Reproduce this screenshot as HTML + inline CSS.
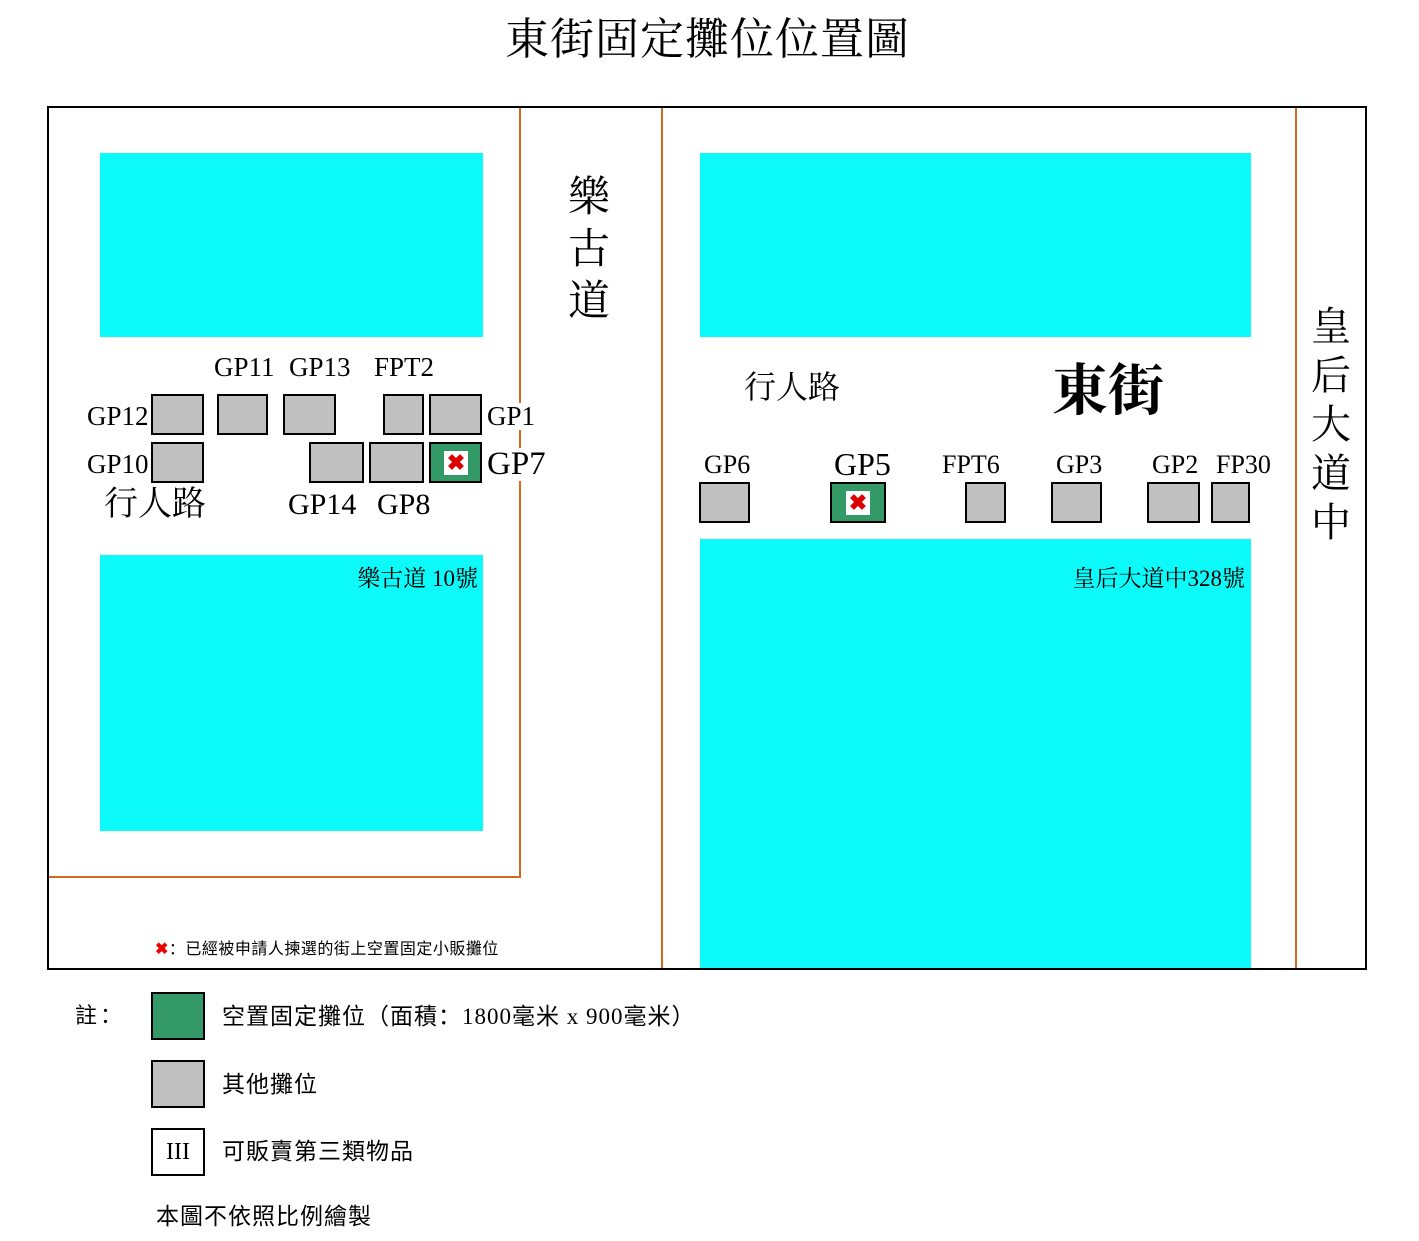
<!DOCTYPE html>
<html><head><meta charset="utf-8"><style>
body{margin:0;width:1419px;height:1241px;background:#fff;position:relative;overflow:hidden;font-family:"Liberation Serif","Noto Serif CJK SC",serif;color:#000}
div{position:absolute;box-sizing:border-box}
.c{background:#0cfafa}
.g{background:#c0c0c0;border:2px solid #000}
.gr{background:#339966;border:2px solid #000}
.o{background:#d2691e}
.t{white-space:nowrap;line-height:1}
.x{background:#fff;color:#d00;font:bold 22px "Liberation Sans",sans-serif;text-align:center;line-height:24px}
.s{font-family:"Liberation Serif","Noto Sans CJK SC",sans-serif}
</style></head><body>
<div class="t" style="left:505px;top:18px;font-size:44px;letter-spacing:1px">東街固定攤位位置圖</div>
<div style="left:47px;top:106px;width:1320px;height:864px;border:2px solid #000"></div>
<div class="o" style="left:519px;top:108px;width:2px;height:770px"></div>
<div class="o" style="left:49px;top:876px;width:472px;height:2px"></div>
<div class="o" style="left:661px;top:108px;width:2px;height:860px"></div>
<div class="o" style="left:1295px;top:108px;width:2px;height:860px"></div>
<div class="c" style="left:100px;top:153px;width:383px;height:184px"></div>
<div class="c" style="left:100px;top:555px;width:383px;height:276px"></div>
<div class="c" style="left:700px;top:153px;width:551px;height:184px"></div>
<div class="c" style="left:700px;top:539px;width:551px;height:429px"></div>
<div class="t" style="right:941px;top:567px;font-size:23px">樂古道 10號</div>
<div class="t" style="right:174px;top:567px;font-size:23px">皇后大道中328號</div>
<div class="t" style="left:568px;top:172px;font-size:42px;line-height:52px;width:44px">樂<br>古<br>道</div>
<div class="t" style="left:1311px;top:302px;font-size:40px;line-height:49px;width:44px">皇<br>后<br>大<br>道<br>中</div>
<div class="t" style="left:1052px;top:364px;font-size:56px;font-weight:bold">東街</div>
<div class="t" style="left:744px;top:371px;font-size:32px">行人路</div>
<div class="t" style="left:104px;top:488px;font-size:34px">行人路</div>
<div class="t" style="left:214px;top:354px;font-size:27px">GP11</div>
<div class="t" style="left:289px;top:354px;font-size:27px">GP13</div>
<div class="t" style="left:374px;top:354px;font-size:27px">FPT2</div>
<div class="t" style="left:87px;top:403px;font-size:27px">GP12</div>
<div class="t" style="left:87px;top:451px;font-size:27px">GP10</div>
<div class="t" style="left:487px;top:403px;font-size:27px;background:#fff">GP1</div>
<div class="t" style="left:487px;top:448px;font-size:33px;background:#fff">GP7</div>
<div class="t" style="left:288px;top:490px;font-size:30px">GP14</div>
<div class="t" style="left:377px;top:490px;font-size:30px">GP8</div>
<div class="g" style="left:151px;top:394px;width:53px;height:41px"></div>
<div class="g" style="left:217px;top:394px;width:51px;height:41px"></div>
<div class="g" style="left:283px;top:394px;width:53px;height:41px"></div>
<div class="g" style="left:383px;top:394px;width:41px;height:41px"></div>
<div class="g" style="left:429px;top:394px;width:53px;height:41px"></div>
<div class="g" style="left:151px;top:442px;width:53px;height:41px"></div>
<div class="g" style="left:309px;top:442px;width:55px;height:41px"></div>
<div class="g" style="left:369px;top:442px;width:55px;height:41px"></div>
<div class="gr" style="left:429px;top:442px;width:53px;height:41px"><div class="x" style="left:13px;top:7px;width:24px;height:24px">✖</div></div>
<div class="t" style="left:704px;top:452px;font-size:26px">GP6</div>
<div class="t" style="left:834px;top:448px;font-size:32px">GP5</div>
<div class="t" style="left:942px;top:452px;font-size:26px">FPT6</div>
<div class="t" style="left:1056px;top:452px;font-size:26px">GP3</div>
<div class="t" style="left:1152px;top:452px;font-size:26px">GP2</div>
<div class="t" style="left:1216px;top:452px;font-size:26px">FP30</div>
<div class="g" style="left:699px;top:482px;width:51px;height:41px"></div>
<div class="gr" style="left:830px;top:482px;width:56px;height:41px"><div class="x" style="left:14px;top:7px;width:24px;height:24px">✖</div></div>
<div class="g" style="left:965px;top:482px;width:41px;height:41px"></div>
<div class="g" style="left:1051px;top:482px;width:51px;height:41px"></div>
<div class="g" style="left:1147px;top:482px;width:53px;height:41px"></div>
<div class="g" style="left:1211px;top:482px;width:39px;height:41px"></div>
<div class="t s" style="left:155px;top:942px;font-size:16px;letter-spacing:0.5px"><span style="color:#e00;font-weight:bold">✖</span>：已經被申請人揀選的街上空置固定小販攤位</div>
<div class="t s" style="left:75px;top:1005px;font-size:22px;letter-spacing:3px">註：</div>
<div class="gr" style="left:151px;top:992px;width:54px;height:48px"></div>
<div class="t s" style="left:222px;top:1005px;font-size:23px;letter-spacing:1px">空置固定攤位（面積：1800毫米 x 900毫米）</div>
<div class="g" style="left:151px;top:1060px;width:54px;height:48px"></div>
<div class="t s" style="left:222px;top:1073px;font-size:23px;letter-spacing:1px">其他攤位</div>
<div style="left:151px;top:1128px;width:54px;height:48px;border:2px solid #000;text-align:center;font-size:24px;line-height:44px">III</div>
<div class="t s" style="left:222px;top:1140px;font-size:23px;letter-spacing:1px">可販賣第三類物品</div>
<div class="t s" style="left:156px;top:1205px;font-size:23px;letter-spacing:1px">本圖不依照比例繪製</div>
</body></html>
